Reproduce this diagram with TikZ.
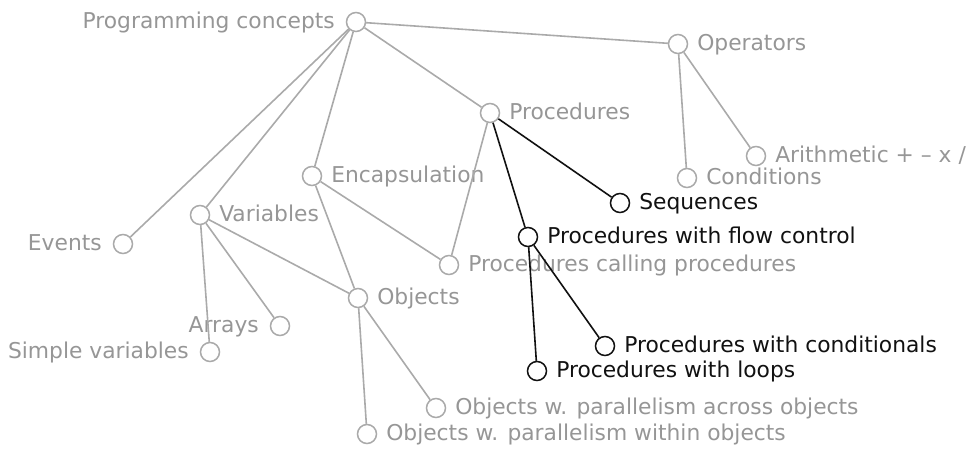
\documentclass[tikz,border=0pt]{standalone}
\usepackage{fontspec}
\setmainfont{DejaVu Sans}
\definecolor{txtgray}{RGB}{150,150,150}
\definecolor{linegray}{RGB}{170,170,170}
\definecolor{dark}{RGB}{17,17,17}
\tikzset{
  cnode/.style={circle, draw=linegray, line width=0.75pt, minimum size=9.5pt, inner sep=0pt, fill=white},
  cdark/.style={cnode, draw=dark},
  lbl/.style={inner sep=0pt, text=txtgray, font=\fontsize{10.9pt}{12.5pt}\selectfont, text height=1.45ex, text depth=0.3ex},
  lbldark/.style={lbl, text=dark},
  lr/.style={lbl, anchor=west, xshift=4.3pt},
  ll/.style={lbl, anchor=east, xshift=-5.3pt},
  lrd/.style={lbldark, anchor=west, xshift=4.3pt},
  gline/.style={draw=linegray, line width=0.8pt},
  dline/.style={draw=dark, line width=0.8pt},
}
\begin{document}
\begin{tikzpicture}[x=0.5pt, y=-0.5pt]
\useasboundingbox (0,0) rectangle (970,449);
% circles
\node[cnode] (pc) at (356,22) {};
\node[cnode] (op) at (678,44) {};
\node[cnode] (pr) at (490,113) {};
\node[cnode] (en) at (312,176) {};
\node[cnode] (ar) at (756,156) {};
\node[cnode] (co) at (687,178) {};
\node[cdark] (se) at (620,203) {};
\node[cnode] (va) at (200,215) {};
\node[cnode] (ev) at (123,244) {};
\node[cdark] (fc) at (528,237) {};
\node[cnode] (pcp) at (449,265) {};
\node[cnode] (ob) at (358,298) {};
\node[cnode] (arr) at (280,326) {};
\node[cnode] (sv) at (210,352) {};
\node[cdark] (cond) at (605,346) {};
\node[cdark] (loop) at (537,371) {};
\node[cnode] (acr) at (436,408) {};
\node[cnode] (wit) at (367,434) {};
% labels
\node[ll] (pcl) at (pc.west) {Programming concepts};
\node[lr] (opl) at (op.east) {Operators};
\node[lr] (prl) at (pr.east) {Procedures};
\node[lr] (enl) at (en.east) {Encapsulation};
\node[lr] (arl) at (ar.east) {Arithmetic + – x /};
\node[lr] (col) at (co.east) {Conditions};
\node[lrd] (sel) at (se.east) {Sequences};
\node[lr] (val) at (va.east) {Variables};
\node[ll] (evl) at (ev.west) {Events};
\node[lrd] (fcl) at (fc.east) {Procedures with flow control};
\node[lr] (pcpl) at (pcp.east) {Procedures calling procedures};
\node[lr] (obl) at (ob.east) {Objects};
\node[ll] (arrl) at (arr.west) {Arrays};
\node[ll] (svl) at (sv.west) {Simple variables};
\node[lrd] (condl) at (cond.east) {Procedures with conditionals};
\node[lrd] (loopl) at (loop.east) {Procedures with loops};
\node[lr] (acrl) at (acr.east) {Objects w. parallelism across objects};
\node[lr] (witl) at (wit.east) {Objects w. parallelism within objects};
% edges
\draw[gline] (pc) -- (ev);
\draw[gline] (pc) -- (va);
\draw[gline] (pc) -- (en);
\draw[gline] (pc) -- (pr);
\draw[gline] (pc) -- (op);
\draw[gline] (op) -- (co);
\draw[gline] (op) -- (ar);
\draw[gline] (pr) -- (pcp);
\draw[dline] (pr) -- (se);
\draw[dline] (pr) -- (fc);
\draw[dline] (fc) -- (cond);
\draw[dline] (fc) -- (loop);
\draw[gline] (va) -- (arr);
\draw[gline] (va) -- (sv);
\draw[gline] (va) -- (ob);
\draw[gline] (en) -- (ob);
\draw[gline] (en) -- (pcp);
\draw[gline] (ob) -- (acr);
\draw[gline] (ob) -- (wit);
\end{tikzpicture}
\end{document}
